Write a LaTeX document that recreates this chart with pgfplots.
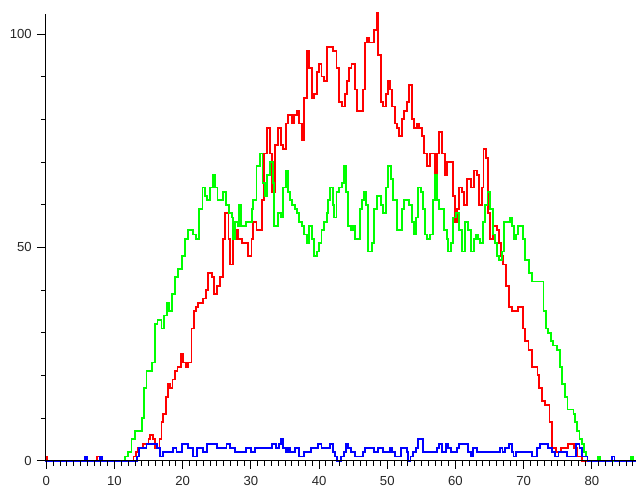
\documentclass[border=0pt]{standalone}
\usepackage{fontspec}
\setmainfont{Liberation Sans}
\usepackage{pgfplots}
\pgfplotsset{compat=1.18}

\definecolor{serA}{RGB}{255,0,0}
\definecolor{serB}{RGB}{0,255,0}
\definecolor{serC}{RGB}{0,0,255}

\begin{document}
\begin{tikzpicture}
% page frame: 636 x 493 px at 0.03cm per px, axis corner at (45,460.7) px
\path[use as bounding box] (-1.35cm,-0.969cm) rectangle (17.73cm,13.821cm);

\begin{axis}[
    scale only axis,
    width=17.73cm, height=13.392cm,
    xmin=-0.19, xmax=86.47,
    ymin=0, ymax=104.6,
    axis lines=left,
    axis line style={-, black, line width=0.8pt},
    axis on top,
    clip=false,
    xtick={0,10,...,80},
    minor xtick={0,1,...,86},
    ytick={0,50,100},
    minor ytick={10,20,30,40,60,70,80,90},
    tick align=outside,
    major tick length=0.24cm,
    minor tick length=0.15cm,
    every tick/.style={black, line width=0.7pt},
    minor y tick style={/pgfplots/minor tick length=0.12cm},
    /pgf/number format/assume math mode=true,
    tick label style={font=\fontsize{11.2}{13}\selectfont, text=black!85},
    x tick label style={yshift=-3pt},
    y tick label style={xshift=-1pt},
    const plot mark left,
    every axis plot/.append style={line width=1.5pt, mark=none},
]

% red series
\addplot[serA] coordinates {
(-0.19,1) (0.15,0) (7.4,1) (7.9,0)
(12.8,1) (13.1,2) (13.4,3) (14.2,4) (15.0,5) (15.2,6) (15.6,5) (15.9,3)
(16.6,5) (16.9,9) (17.15,11) (17.5,15) (17.8,18) (18.1,17) (18.5,19)
(18.9,21) (19.25,22) (19.7,25) (20.1,23) (20.5,22) (20.8,23) (21.3,31)
(21.65,35) (22.0,36) (22.3,37) (23.0,38) (23.4,40) (23.75,44) (24.25,43)
(24.6,39) (25.0,41) (25.5,43) (25.9,52) (26.25,58) (26.7,52) (26.9,46)
(27.4,52) (27.8,54) (28.15,52) (28.65,51) (29.6,48) (30.1,52) (30.35,56)
(30.84,54) (31.63,61) (31.92,72) (32.31,78) (32.8,72) (33.14,63) (33.53,74)
(34.02,78) (34.36,74) (34.75,73) (35.1,79) (35.49,81) (35.98,79) (36.32,81)
(36.81,82) (37.1,79) (37.44,75) (37.83,85) (38.18,96) (38.57,92) (38.91,85)
(39.25,86) (39.64,91) (39.98,93) (40.37,90) (40.72,89) (41.21,97) (42.09,96)
(42.57,92) (42.96,84) (43.31,83) (43.8,86) (44.04,89) (44.43,92) (44.77,93)
(45.26,87) (45.6,82) (46.39,87) (46.73,98) (47.08,99) (47.37,98) (48.05,101)
(48.44,105) (48.69,95) (49.03,84) (49.42,83) (49.81,86) (50.15,89) (50.4,87)
(50.74,83) (51.13,79) (51.47,78) (51.77,76) (52.11,80) (52.45,82) (52.84,84)
(53.23,88) (53.58,80) (53.92,78) (54.31,79) (54.65,78) (55.04,76) (55.43,72)
(55.78,69) (56.26,72) (57.0,64) (57.34,72) (57.63,77) (57.97,72) (58.46,67)
(58.81,70) (59.59,62) (59.93,56) (60.27,59) (60.57,64) (60.91,63) (61.25,60)
(61.64,66) (62.28,64) (62.72,68) (63.1,67) (63.5,60) (63.84,64) (64.09,73)
(64.48,71) (64.82,58) (65.07,52) (65.55,55) (66.14,54) (66.43,51) (66.68,48)
(67.02,46) (67.41,41) (67.9,36) (68.24,35) (69.22,36) (69.86,31) (70.2,28)
(70.69,26) (71.18,22) (72.01,20) (72.3,17) (72.64,14) (73.13,13) (73.77,9)
(74.11,3) (74.7,2) (75.5,3) (76.45,4) (77.4,3) (77.9,1) (78.5,0) (86.47,0)
};

% green series
\addplot[serB] coordinates {
(-0.19,0) (11.5,1) (12.0,2) (12.5,5) (13.0,7) (14.0,10) (14.3,17) (14.7,21)
(15.45,23) (15.9,32) (16.3,33) (16.9,31) (17.3,34) (17.65,37) (18.0,35)
(18.4,39) (18.9,43) (19.35,45) (19.85,48) (20.3,52) (20.8,54) (21.5,53)
(21.95,52) (22.4,59) (22.9,64) (23.3,62) (23.6,61) (24.0,64) (24.4,67)
(24.7,64) (25.1,61) (25.9,63) (26.35,60) (26.8,58) (27.2,57) (27.42,52)
(27.67,56) (28.15,55) (28.3,60) (28.5,55) (29.28,56) (30.11,59) (30.35,61)
(30.84,69) (31.33,72) (31.72,65) (32.07,62) (32.41,67) (32.8,70) (33.19,65)
(33.43,55) (34.02,58) (34.41,57) (34.75,64) (35.14,68) (35.49,63) (35.73,61)
(36.07,60) (36.46,59) (36.81,58) (37.1,56) (37.44,55) (37.78,53) (38.18,51)
(38.57,55) (38.91,52) (39.25,48) (39.64,49) (40.03,51) (40.37,54) (40.72,56)
(41.11,58) (41.35,61) (41.6,64) (41.99,60) (42.18,57) (42.57,63) (42.92,64)
(43.31,65) (43.65,69) (43.94,63) (44.28,55) (44.68,54) (45.02,55) (45.26,52)
(46.0,59) (46.24,61) (46.59,63) (46.88,60) (47.22,49) (47.71,51) (48.05,59)
(48.44,62) (49.03,60) (49.42,58) (49.81,64) (50.15,69) (50.5,66) (50.89,61)
(51.47,54) (52.11,59) (52.45,61) (53.23,60) (53.58,56) (53.92,53) (54.21,57)
(54.55,64) (54.9,63) (55.29,59) (55.53,53) (55.87,52) (56.26,53) (56.65,61)
(57.0,67) (57.24,61) (57.63,59) (58.32,54) (58.71,52) (58.95,49) (59.29,51)
(59.69,57) (60.08,58) (60.57,54) (60.91,49) (61.4,56) (61.88,54) (62.23,49)
(62.72,52) (63.0,53) (63.35,52) (63.6,51) (63.99,56) (64.33,60) (64.68,63)
(65.07,59) (65.46,53) (65.8,51) (66.14,48) (66.43,47) (66.78,49) (67.12,56)
(68.0,57) (68.24,55) (68.59,52) (68.88,53) (69.22,55) (69.86,52) (70.2,47)
(70.83,44) (71.18,42) (72.89,35) (73.28,31) (73.62,30) (73.96,28) (74.25,27)
(74.84,26) (75.33,22) (75.57,18) (76.06,15) (76.41,12) (77.29,11) (77.53,9)
(77.87,7) (78.17,5) (78.51,4) (78.85,2) (79.14,1) (79.34,0)
(80.85,1) (81.2,0) (85.7,1) (86.0,0) (86.47,0)
};

% blue series
\addplot[serC] coordinates {
(-0.19,0) (5.7,1) (6.0,0) (7.9,1) (8.2,0) (13.25,1) (13.6,3) (14.7,4)
(16.2,3) (16.7,1) (17.1,2) (18.6,3) (19.1,2) (19.85,4) (20.8,3) (21.56,1)
(22.05,3) (23.02,2) (23.51,4) (24.98,3) (26.44,4) (26.93,3) (27.67,2)
(29.3,3) (30.0,2) (30.6,3) (33.04,4) (33.68,3) (34.17,4) (34.41,5) (34.75,3)
(35.1,2) (35.4,3) (35.73,2) (36.46,3) (37.05,1) (37.83,2) (38.76,3) (39.89,4)
(40.37,3) (41.6,4) (42.09,2) (42.33,1) (42.67,0) (43.21,1) (43.65,2)
(43.94,4) (44.28,3) (44.68,2) (45.26,1) (46.39,2) (46.73,3) (48.1,2)
(48.59,3) (49.42,2) (50.39,3) (50.74,2) (51.13,1) (51.96,3) (52.84,2)
(53.08,0) (53.42,1) (53.82,2) (54.21,3) (54.55,5) (55.28,2) (57.24,3)
(57.63,4) (57.97,2) (58.6,4) (58.95,3) (59.29,2) (60.17,3) (60.56,4)
(61.88,2) (62.23,1) (62.61,3) (63.1,2) (66.5,3) (66.9,2) (67.3,3) (67.8,4)
(68.24,2) (68.49,1) (68.88,2) (71.18,1) (71.9,3) (72.4,4) (73.6,3) (74.1,2)
(74.6,1) (75.1,2) (76.4,1) (77.7,4) (78.2,3) (78.5,1) (79.34,0)
(82.9,1) (83.3,0) (86.47,0)
};

\end{axis}
\end{tikzpicture}
\end{document}
